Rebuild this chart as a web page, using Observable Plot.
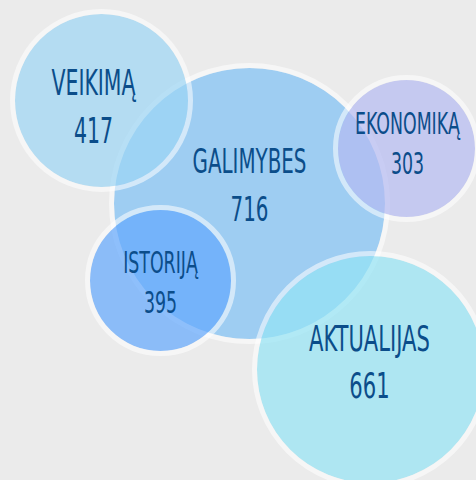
<!DOCTYPE html>
<html><head><meta charset="utf-8">
<script src="https://cdn.jsdelivr.net/npm/d3@7"></script>
<script src="https://cdn.jsdelivr.net/npm/@observablehq/plot@0.6"></script>
<style>
html,body{margin:0;padding:0;background:#ebebeb;}
#chart svg{display:block;}
</style></head><body><div id="chart"></div>
<script>
// values
const topics = ["GALIMYBES", "VEIKIMĄ", "EKONOMIKĄ", "ISTORIJĄ", "AKTUALIJAS"];
const counts = [716, 417, 303, 395, 661];
const colors = ["#7dc1f5", "#9cd6f5", "#b5baf2", "#63a8fd", "#94e4f5"];
// bubble layout (chart units)
const centerX = [249, 101, 406, 160, 370];
const centerY = [203, 100, 148, 280, 369];
const radius = [138, 89, 71, 73, 116];
const labelX = [249, 93, 407, 160, 369];
const labelY = [172, 94, 133, 272, 350];
const valueY = [220, 142, 173, 312, 397];
const fontSizes = [32, 33, 28, 28, 34];

const bubbles = topics.map((t, i) => ({
  topic: t, count: counts[i], cx: centerX[i], cy: centerY[i],
  r: radius[i], rin: radius[i] - 2.5, lx: labelX[i], ly: labelY[i], vy: valueY[i], fs: fontSizes[i]
}));

const bubbleMarks = bubbles.flatMap(b => [
  Plot.dot([b], {x: "cx", y: "cy", r: "rin", fill: "topic", fillOpacity: 0.7, stroke: null}),
  Plot.dot([b], {x: "cx", y: "cy", r: "r", fill: "none", stroke: "white", strokeOpacity: 0.55, strokeWidth: 5})
]);

const font = "'Liberation Sans Narrow', 'DejaVu Sans Condensed', 'Roboto', sans-serif";

const chart = Plot.plot({
  width: 476, height: 480, margin: 0,
  style: {background: "#ebebeb"},
  x: {domain: [0, 476], range: [0, 476], axis: null},
  y: {domain: [0, 480], range: [0, 480], axis: null},
  r: {type: "identity"},
  color: {domain: topics, range: colors},
  marks: [
    ...bubbleMarks,
    Plot.text(bubbles, {x: "lx", y: "ly", text: "topic", fontSize: "fs", lineAnchor: "bottom",
      fill: "#0b4d8a", fontFamily: font}),
    Plot.text(bubbles, {x: "lx", y: "vy", text: d => String(d.count), fontSize: "fs", lineAnchor: "bottom",
      fill: "#0b4d8a", fontFamily: font})
  ]
});

d3.select(chart).selectAll("g[aria-label=text] text").each(function () {
  const t = this.getAttribute("transform") || "";
  this.setAttribute("transform", t + " scale(0.69,1.07)");
});

document.getElementById("chart").appendChild(chart);
</script></body></html>
